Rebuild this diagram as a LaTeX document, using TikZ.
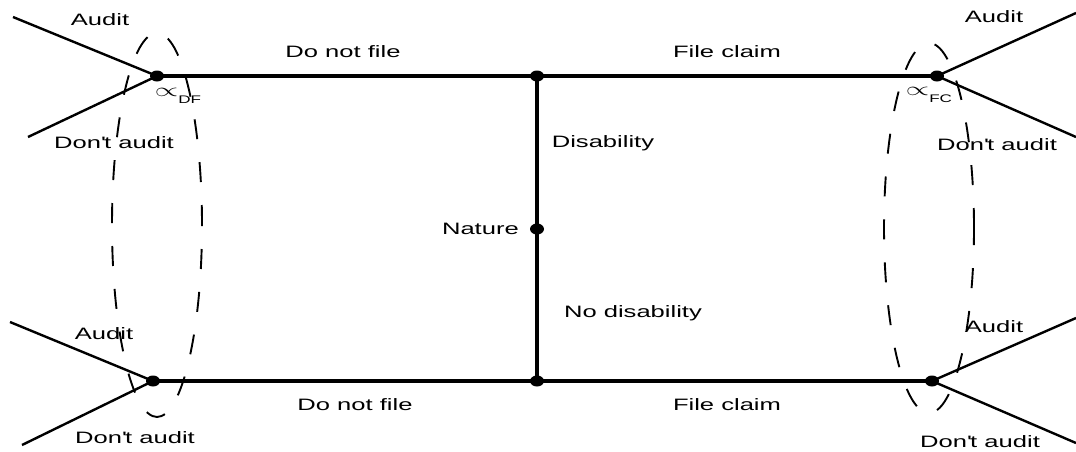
\documentclass[tikz,border=0pt]{standalone}
\usepackage{fontspec}
\usetikzlibrary{shapes.geometric}
\setmainfont{Liberation Sans}[FakeStretch=1.55]
\begin{document}
\begin{tikzpicture}[x=1pt,y=-1pt,
  dot/.style={ellipse,fill=black,inner sep=0pt,minimum width=14pt,minimum height=11pt},
  mainline/.style={line width=4pt},
  branch/.style={line width=2.4pt},
  infoset/.style={line width=1.9pt,dash pattern=on 20pt off 23pt},
  lbl/.style={inner sep=0pt,font=\fontsize{16.5}{19}\selectfont},
  pref/.style={inner sep=0pt}]
\useasboundingbox (0,0) rectangle (1076,451);
% decision nodes
\node[dot] (tl) at (157,76) {};
\node[dot] (tc) at (537,76) {};
\node[dot] (tr) at (937,76) {};
\node[dot] (nat) at (537,229) {};
\node[dot] (bl) at (153,381) {};
\node[dot] (bc) at (537,381) {};
\node[dot] (br) at (932,381) {};
% free ends
\coordinate (tlA) at (13,17);
\coordinate (tlD) at (28,137);
\coordinate (trA) at (1076,13);
\coordinate (trD) at (1076,137);
\coordinate (blA) at (10,322);
\coordinate (blD) at (22,445);
\coordinate (brA) at (1076,318);
\coordinate (brD) at (1076,443);
% main lines
\draw[mainline] (tl.center) -- (tc.center) -- (tr.center);
\draw[mainline] (bl.center) -- (bc.center) -- (br.center);
\draw[mainline] (tc.center) -- (nat.center) -- (bc.center);
% branches
\draw[branch] (tlA) -- (tl.center) -- (tlD);
\draw[branch] (trA) -- (tr.center) -- (trD);
\draw[branch] (blA) -- (bl.center) -- (blD);
\draw[branch] (brA) -- (br.center) -- (brD);
% information sets
\draw[infoset] (157,225) ellipse [x radius=45pt, y radius=192pt];
\draw[infoset] (929,228) ellipse [x radius=45pt, y radius=185pt];
% labels
\node[lbl] (l1) at (100,20) {Audit};
\node[lbl] (l2) at (114,143) {Don\textquotesingle t audit};
\node[lbl] (l3) at (994,17) {Audit};
\node[lbl] (l4) at (997,145) {Don\textquotesingle t audit};
\node[lbl] (l5) at (104,334) {Audit};
\node[lbl] (l6) at (135,438) {Don\textquotesingle t audit};
\node[lbl] (l7) at (994,327) {Audit};
\node[lbl] (l8) at (980,442) {Don\textquotesingle t audit};
\node[lbl] (l9) at (343,52) {Do not file};
\node[lbl] (l10) at (727,52) {File claim};
\node[lbl] (l11) at (603,143) {Disability};
\node[lbl,anchor=east] (l12) at (519,229) {Nature};
\node[lbl] (l13) at (633,313) {No disability};
\node[lbl] (l14) at (355,405) {Do not file};
\node[lbl] (l15) at (727,405) {File claim};
\node[pref] (p1) at (178,96) {\scalebox{3}[1.9]{$\propto$}\raisebox{-7pt}{\fontsize{11}{12}\selectfont DF}};
\node[pref] (p2) at (929,95) {\scalebox{3}[1.9]{$\propto$}\raisebox{-7pt}{\fontsize{11}{12}\selectfont FC}};
\end{tikzpicture}
\end{document}
